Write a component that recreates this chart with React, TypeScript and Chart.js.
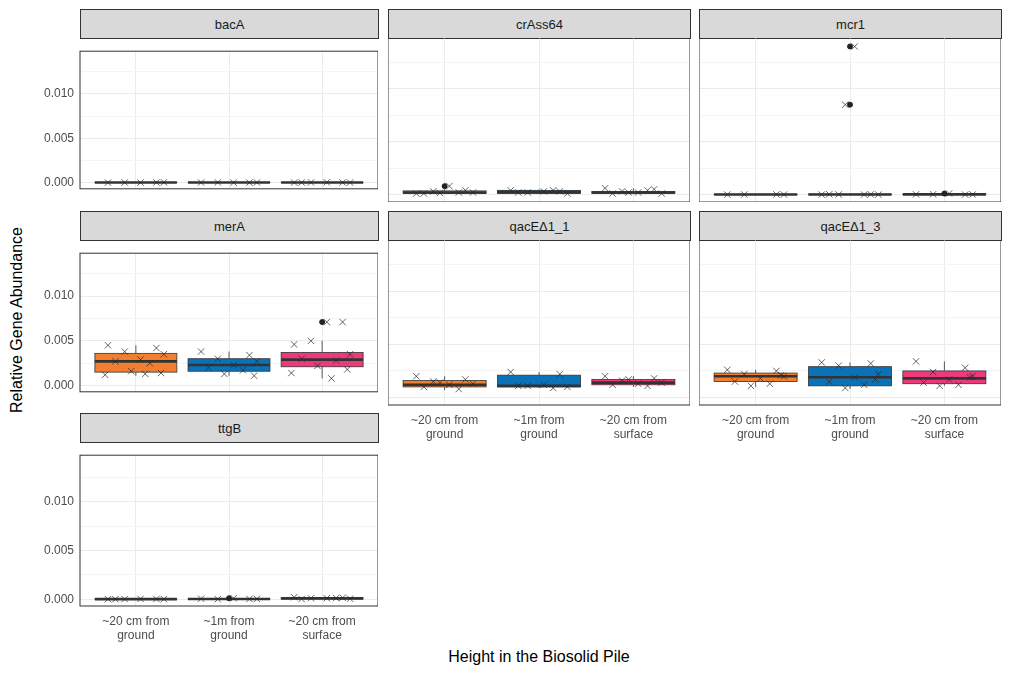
import { useEffect, useRef } from "react"
import { Chart, registerables } from "chart.js"

Chart.register(...registerables)

const groupLines = [["~20 cm from", "ground"], ["~1m from", "ground"], ["~20 cm from", "surface"]]
const fills = ["#F07F2F", "#0A72B8", "#EE3A7A"]
const jitter = [-0.3, 0.22, -0.12, 0.3, 0.05, -0.22, 0.15, -0.05, 0.27, -0.33, 0.1, -0.18]

// box stats per group: [lowWhisker, q1, median, q3, highWhisker]
const bacABoxes = [[0, 0, 0.00001, 0.00003, 0.00005], [0, 0, 0.00001, 0.00003, 0.00005], [0, 0, 0.00001, 0.00003, 0.00005]]
const bacAPoints = [[0, 0.00002, 0.00001, 0.00003, 0], [0.00001, 0, 0.00002, 0.00001, 0], [0, 0.00001, 0.00002, 0, 0.00003, 0.00001]]
const bacAOut = [[], [], []]

const crAssBoxes = [[0.00005, 0.0001, 0.0002, 0.00035, 0.0005], [0.00005, 0.0001, 0.00025, 0.0004, 0.0005], [0.00005, 0.0001, 0.0002, 0.0003, 0.0006]]
const crAssPoints = [[0.0001, 0.0004, 0.0003, 0.0002, 0.0008, 0.0001, 0.0002, 0.00015], [0.0004, 0.0003, 0.0002, 0.0001, 0.0003, 0.0002, 0.0004], [0.0006, 0.0005, 0.0003, 0.0001, 0.0002, 0.0001, 0.0004, 0.0002]]
const crAssOut = [[0.0008], [], []]

const mcr1Boxes = [[0, 0, 0.00001, 0.00003, 0.00005], [0, 0, 0.00001, 0.00004, 0.00008], [0, 0, 0.00002, 0.00005, 0.0001]]
const mcr1Points = [[0, 0.00002, 0.00001, 0], [0, 0.00002, 0.00001, 0, 0.014, 0.00003, 0, 0.0085], [0.00002, 0, 0.00003, 0.00001, 0.0001]]
const mcr1Out = [[], [0.014, 0.0085], [0.0001]]

const merABoxes = [[0.0011, 0.0015, 0.0027, 0.0036, 0.0045], [0.0011, 0.0016, 0.0023, 0.003, 0.0038], [0.0008, 0.0021, 0.0029, 0.0037, 0.005]]
const merAPoints = [[0.0045, 0.0042, 0.0038, 0.0035, 0.0029, 0.0027, 0.0025, 0.0016, 0.0014, 0.0012, 0.0013], [0.0038, 0.0034, 0.003, 0.0027, 0.0023, 0.002, 0.0017, 0.0013, 0.0011], [0.0046, 0.0071, 0.005, 0.0035, 0.0071, 0.003, 0.0028, 0.0022, 0.0018, 0.0014, 0.0008]]
const merAOut = [[], [], [0.0071]]

const qac1Boxes = [[0.0007, 0.001, 0.0012, 0.0016, 0.002], [0.0009, 0.001, 0.0011, 0.0021, 0.0024], [0.001, 0.0012, 0.0014, 0.0017, 0.002]]
const qac1Points = [[0.002, 0.0017, 0.0015, 0.0013, 0.0012, 0.001, 0.0008, 0.0014], [0.0024, 0.0022, 0.0011, 0.001, 0.0012, 0.0011, 0.0009], [0.002, 0.0018, 0.0016, 0.0014, 0.0013, 0.0012, 0.0011, 0.0017]]
const qac1Out = [[], [], []]

const qac3Boxes = [[0.001, 0.0015, 0.002, 0.0023, 0.0026], [0.0008, 0.0011, 0.0019, 0.0029, 0.0033], [0.0011, 0.0013, 0.0018, 0.0025, 0.0034]]
const qac3Points = [[0.0026, 0.0025, 0.0022, 0.002, 0.0018, 0.0015, 0.0013, 0.0011, 0.0021], [0.0033, 0.0032, 0.003, 0.0022, 0.0019, 0.0015, 0.0012, 0.0009, 0.0017], [0.0034, 0.0028, 0.0024, 0.002, 0.0017, 0.0014, 0.0012, 0.0011, 0.0019]]
const qac3Out = [[], [], []]

const ttgBBoxes = [[0, 0, 0.00001, 0.00003, 0.00005], [0, 0, 0.00002, 0.00004, 0.00008], [0, 0.00002, 0.00008, 0.00015, 0.0002]]
const ttgBPoints = [[0, 0.00002, 0.00001, 0, 0.00003, 0], [0.00005, 0.00002, 0, 0.00003, 0.0001], [0.0002, 0.00015, 0.0001, 0.00005, 0.0001, 0.00002, 0.00012]]
const ttgBOut = [[], [0.0001], []]

const yMin = -0.0007
const yMax = 0.0148
const FONT = "'Liberation Sans', Arial, sans-serif"

type PanelProps = {
  title: string
  boxes: number[][]
  points: number[][]
  outliers: number[][]
  left: number
  top: number
  width: number
  height: number
  showY: boolean
  showX: boolean
}

const Y_W = 46
const X_H = 44

function Panel({ title, boxes, points, outliers, left, top, width, height, showY, showX }: PanelProps) {
  const ref = useRef<HTMLCanvasElement>(null)
  useEffect(() => {
    if (!ref.current) return
    const pts: { x: number; y: number }[] = []
    points.forEach((arr, g) => arr.forEach((v, i) => pts.push({ x: g + 1 + jitter[i % jitter.length], y: v })))
    const outs: { x: number; y: number }[] = []
    outliers.forEach((arr, g) => arr.forEach((v) => outs.push({ x: g + 1, y: v })))

    const boxPlugin = {
      id: "boxes",
      beforeDatasetsDraw(chart: any) {
        const { ctx, scales } = chart
        const xs = scales.x
        const ys = scales.y
        ctx.save()
        boxes.forEach((b, g) => {
          const x0 = xs.getPixelForValue(g + 1 - 0.44)
          const x1 = xs.getPixelForValue(g + 1 + 0.44)
          const xc = xs.getPixelForValue(g + 1)
          ctx.strokeStyle = "#333"
          ctx.lineWidth = 0.8
          ctx.beginPath()
          ctx.moveTo(xc, ys.getPixelForValue(b[0]))
          ctx.lineTo(xc, ys.getPixelForValue(b[1]))
          ctx.moveTo(xc, ys.getPixelForValue(b[3]))
          ctx.lineTo(xc, ys.getPixelForValue(b[4]))
          ctx.stroke()
          const yq1 = ys.getPixelForValue(b[1])
          const yq3 = ys.getPixelForValue(b[3])
          ctx.fillStyle = fills[g]
          ctx.fillRect(x0, yq3, x1 - x0, yq1 - yq3)
          ctx.strokeRect(x0, yq3, x1 - x0, yq1 - yq3)
          ctx.lineWidth = 2.6
          ctx.beginPath()
          const ym = ys.getPixelForValue(b[2])
          ctx.moveTo(x0, ym)
          ctx.lineTo(x1, ym)
          ctx.stroke()
        })
        ctx.restore()
      },
      afterDraw(chart: any) {
        const { ctx, chartArea } = chart
        ctx.save()
        ctx.strokeStyle = "#333"
        ctx.lineWidth = 1
        ctx.strokeRect(chartArea.left, chartArea.top, chartArea.right - chartArea.left, chartArea.bottom - chartArea.top)
        ctx.restore()
      },
    }

    const chart = new Chart(ref.current, {
      type: "scatter",
      data: {
        datasets: [
          { data: outs, pointStyle: "circle", pointRadius: 2.5, backgroundColor: "#222", borderColor: "#222" },
          { data: pts, pointStyle: "crossRot", pointRadius: 4.5, borderColor: "rgba(40,40,40,0.8)", borderWidth: 0.9 },
        ],
      },
      options: {
        animation: false,
        responsive: false,
        layout: { padding: 0, autoPadding: false },
        plugins: { legend: { display: false }, tooltip: { enabled: false } },
        scales: {
          x: {
            type: "linear",
            min: 0.4,
            max: 3.6,
            afterBuildTicks: (s: any) => { s.ticks = [1, 1.5, 2, 2.5, 3].map((v) => ({ value: v })) },
            afterFit: (s: any) => { s.height = showX ? X_H : 0 },
            grid: { color: (c: any) => (Number.isInteger(c.tick?.value) ? "#EBEBEB" : "rgba(0,0,0,0)"), drawTicks: false },
            border: { display: false },
            ticks: {
              display: showX,
              padding: 8,
              maxRotation: 0,
              minRotation: 0,
              autoSkip: false,
              color: "#4D4D4D",
              font: { family: FONT, size: 12 },
              callback: (v: any) => (Number.isInteger(v) ? groupLines[v - 1] : ""),
            },
          },
          y: {
            min: yMin,
            max: yMax,
            afterBuildTicks: (s: any) => { s.ticks = [0, 0.0025, 0.005, 0.0075, 0.01, 0.0125].map((v) => ({ value: v })) },
            afterFit: (s: any) => { s.width = showY ? Y_W : 0 },
            grid: { color: (c: any) => (Math.round(c.tick.value * 10000) % 50 === 0 ? "#EBEBEB" : "#F4F4F4"), drawTicks: false },
            border: { display: false },
            ticks: {
              display: showY,
              padding: 6,
              color: "#4D4D4D",
              font: { family: FONT, size: 12 },
              callback: (v: any) => (Math.round(v * 10000) % 50 === 0 ? Number(v).toFixed(3) : ""),
            },
          },
        },
      },
      plugins: [boxPlugin],
    })
    return () => chart.destroy()
  }, [])

  const cw = width + (showY ? Y_W : 0)
  const ch = height + (showX ? X_H : 0)
  return (
    <>
      <div style={{ position: "absolute", left, top: top - 29, width: width - 1, height: 28, background: "#D9D9D9", border: "1px solid #333", display: "flex", alignItems: "center", justifyContent: "center", fontFamily: FONT, fontSize: 13, color: "#1A1A1A" }}>{title}</div>
      <canvas ref={ref} width={cw} height={ch} style={{ position: "absolute", left: left - (showY ? Y_W : 0), top, width: cw, height: ch }} />
    </>
  )
}

const colX = [80, 388, 699]
const colW = [298, 302, 302]
const rowY = [38, 240, 442]
const rowH = [164, 165, 164]

export default function App() {
  return (
    <div style={{ position: "absolute", left: 0, top: 0, width: 1012, height: 675, background: "#fff", overflow: "hidden" }}>
      <Panel title="bacA" boxes={bacABoxes} points={bacAPoints} outliers={bacAOut} left={colX[0]} top={rowY[0]} width={colW[0]} height={rowH[0]} showY showX={false} />
      <Panel title="crAss64" boxes={crAssBoxes} points={crAssPoints} outliers={crAssOut} left={colX[1]} top={rowY[0]} width={colW[1]} height={rowH[0]} showY={false} showX={false} />
      <Panel title="mcr1" boxes={mcr1Boxes} points={mcr1Points} outliers={mcr1Out} left={colX[2]} top={rowY[0]} width={colW[2]} height={rowH[0]} showY={false} showX={false} />
      <Panel title="merA" boxes={merABoxes} points={merAPoints} outliers={merAOut} left={colX[0]} top={rowY[1]} width={colW[0]} height={rowH[1]} showY showX={false} />
      <Panel title="qacEΔ1_1" boxes={qac1Boxes} points={qac1Points} outliers={qac1Out} left={colX[1]} top={rowY[1]} width={colW[1]} height={rowH[1]} showY={false} showX />
      <Panel title="qacEΔ1_3" boxes={qac3Boxes} points={qac3Points} outliers={qac3Out} left={colX[2]} top={rowY[1]} width={colW[2]} height={rowH[1]} showY={false} showX />
      <Panel title="ttgB" boxes={ttgBBoxes} points={ttgBPoints} outliers={ttgBOut} left={colX[0]} top={rowY[2]} width={colW[0]} height={rowH[2]} showY showX />
      <div style={{ position: "absolute", left: 17, top: 320, transform: "translate(-50%, -50%) rotate(-90deg)", whiteSpace: "nowrap", fontFamily: FONT, fontSize: 16, color: "#000" }}>Relative Gene Abundance</div>
      <div style={{ position: "absolute", left: 539, top: 657, transform: "translate(-50%, -50%)", whiteSpace: "nowrap", fontFamily: FONT, fontSize: 16, color: "#000" }}>Height in the Biosolid Pile</div>
    </div>
  )
}
